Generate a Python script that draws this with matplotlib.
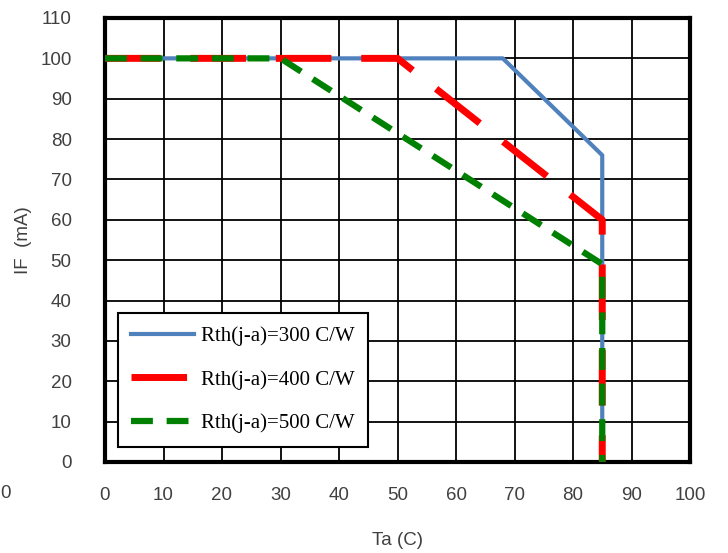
import matplotlib.pyplot as plt
import numpy as np

# derating curves, IF (mA) vs Ta (C)
ta_300 = [0, 68, 85, 85]
if_300 = [100, 100, 76, 0]

ta_400 = [0, 50, 85, 85]
if_400 = [100, 100, 60, 0]

ta_500 = [0, 30, 85, 85]
if_500 = [100, 100, 49, 0]

labels = ["Rth(j-a)=300 C/W", "Rth(j-a)=400 C/W", "Rth(j-a)=500 C/W"]

plt.rcParams['font.family'] = ['Liberation Sans', 'DejaVu Sans']

fig = plt.figure(figsize=(7.28, 5.53), dpi=100)
ax = fig.add_axes([105 / 728, 91 / 553, 585 / 728, 444 / 553])

ax.plot(ta_300, if_300, color='#4F81BD', lw=3, label=labels[0], zorder=3)
ax.plot(ta_400, if_400, color='#FF0000', lw=5, dashes=(8, 4.3), label=labels[1], zorder=4)
ax.plot(ta_500, if_500, color='#008000', lw=4.5, dashes=(3.5, 2.2), label=labels[2], zorder=5)

ax.set_xlim(0, 100)
ax.set_ylim(0, 110)
ax.set_xticks(np.arange(0, 101, 10))
ax.set_yticks(np.arange(0, 111, 10))
ax.grid(True, color='black', lw=1.3)
ax.set_axisbelow(True)
ax.tick_params(length=0, labelsize=13.5, labelcolor='#404040')
ax.tick_params(axis='y', pad=24)
ax.tick_params(axis='x', pad=18)
for s in ax.spines.values():
    s.set_linewidth(3)
    s.set_color('black')

ax.set_xlabel("Ta (C)", fontsize=13.5, color='#404040', labelpad=20)
ax.set_ylabel("IF  (mA)", fontsize=13.5, color='#404040', labelpad=6)

leg = ax.legend(loc='lower left', bbox_to_anchor=(0.022, 0.034), borderaxespad=0,
                fancybox=False, framealpha=1, edgecolor='black',
                handlelength=3.0, handletextpad=0.35,
                labelspacing=1.15, borderpad=0.65,
                prop={'family': 'Liberation Serif', 'size': 15})
leg.get_frame().set_linewidth(1.5)

# stray label at the left edge
fig.text(0.001, (553 - 493) / 553, "0", fontsize=13.5, color='#404040',
         va='center', ha='left')

fig.savefig("out.png", dpi=100)
